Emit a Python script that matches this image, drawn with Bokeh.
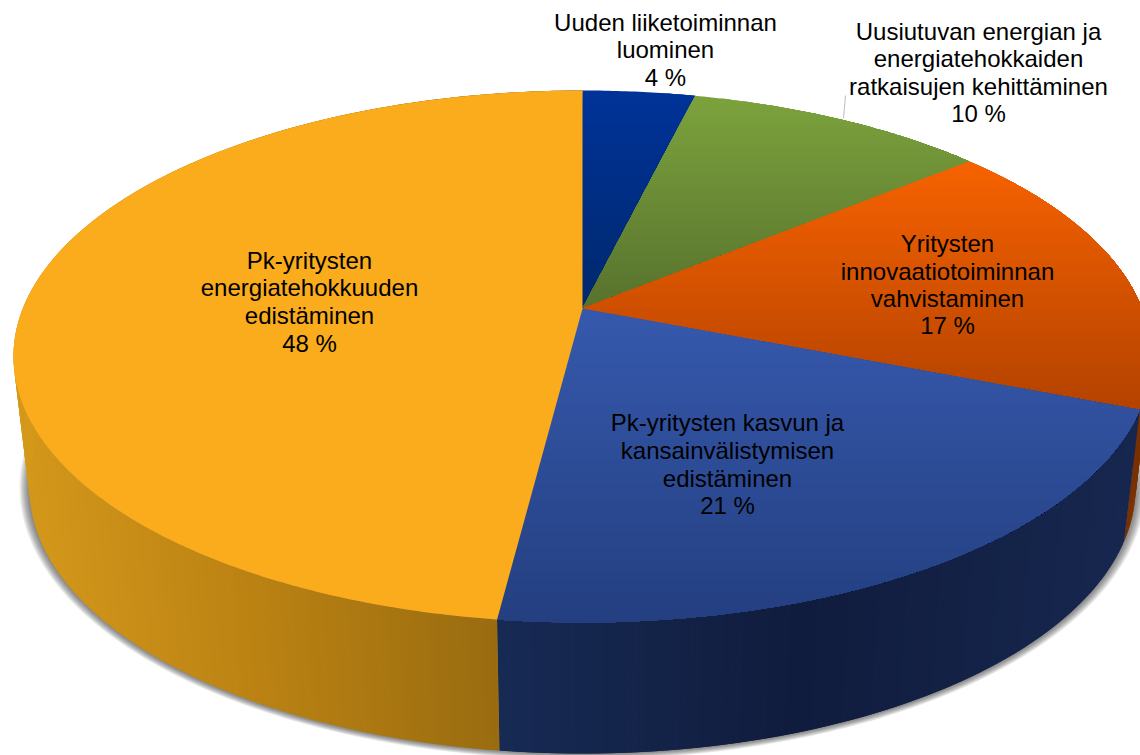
import numpy as np
from bokeh.plotting import figure
from bokeh.models import Range1d
from bokeh.core.properties import value
from bokeh.embed import file_html
from bokeh.resources import INLINE

# ---- data, clockwise from 12 o'clock (labels show rounded shares)
categories = ["Uuden liiketoiminnan luominen",
              "Uusiutuvan energian ja energiatehokkaiden ratkaisujen kehittäminen",
              "Yritysten innovaatiotoiminnan vahvistaminen",
              "Pk-yritysten kasvun ja kansainvälistymisen edistäminen",
              "Pk-yritysten energiatehokkuuden edistäminen"]
shares = [3.8, 10.2, 17, 21, 48]

label_lines = [["Uuden liiketoiminnan", "luominen", "4 %"],
               ["Uusiutuvan energian ja", "energiatehokkaiden", "ratkaisujen kehittäminen", "10 %"],
               ["Yritysten", "innovaatiotoiminnan", "vahvistaminen", "17 %"],
               ["Pk-yritysten kasvun ja", "kansainvälistymisen", "edistäminen", "21 %"],
               ["Pk-yritysten", "energiatehokkuuden", "edistäminen", "48 %"]]
label_x = [665, 978, 947, 727, 309]
label_y = [[22, 49, 77], [31, 58, 86, 113], [243, 271, 298, 325], [422, 450, 478, 505], [260, 287, 315, 343]]

top_colors = [("#003399", "#00286c"), ("#7ca23d", "#57722d"), ("#f66200", "#b34200"),
              ("#3659ad", "#243f80"), ("#faac1c", "#faac1c")]
wall_stops = [None, None,
              [(900, "#7a3000"), (1140, "#7a3000")],
              [(498, "#172a54"), (800, "#101c3d"), (1140, "#17274f")],
              [(13, "#d4981b"), (250, "#bb8213"), (498, "#996c10")]]

# ---- geometry of the projected disc
CX, CY_TOP, A_TOP, B_TOP = 582.0, 356.0, 569.0, 266.0
CY_BOT, A_BOT, B_BOT = 487.0, 553.0, 266.0
P = 0.18


def disc(theta, cy, a, b):
    u, v = np.sin(theta), np.cos(theta)
    d = 1 + P * v
    X = u * np.sqrt(1 - P ** 2) / d
    Y = (v + P) / d
    return CX + a * X, cy - b * Y


def hex2rgb(c):
    return np.array([int(c[i:i + 2], 16) for i in (1, 3, 5)], float)


def lerp(stops, t):
    xs = [s[0] for s in stops]
    rgb = [hex2rgb(s[1]) for s in stops]
    vals = [np.interp(t, xs, [r[k] for r in rgb]) for k in range(3)]
    return "#%02x%02x%02x" % tuple(int(round(x)) for x in vals)


def clip_below(xs, ys, y0):
    out = []
    n = len(xs)
    for i in range(n):
        x1, y1, x2, y2 = xs[i], ys[i], xs[(i + 1) % n], ys[(i + 1) % n]
        if y1 >= y0:
            out.append((x1, y1))
        if (y1 >= y0) != (y2 >= y0):
            t = (y0 - y1) / (y2 - y1)
            out.append((x1 + t * (x2 - x1), y0))
    return [o[0] for o in out], [o[1] for o in out]


p = figure(width=1140, height=755, x_range=Range1d(0, 1140), y_range=Range1d(755, 0),
           output_backend="svg", toolbar_location=None, min_border=0,
           outline_line_color=None, background_fill_color="white", border_fill_color="white")
p.axis.visible = False
p.grid.visible = False

# soft shadow under the wall: widest and faintest layer first
tt = np.linspace(0, 2 * np.pi, 361)
sx, sy = [], []
for k in range(10, 0, -1):
    u, v = np.sin(tt), np.cos(tt)
    sx.append(list(CX + (A_BOT + k) * u))
    sy.append(list(CY_BOT - (B_BOT + k * 0.6) * v))
p.patches(sx, sy, fill_color="#303030", fill_alpha=0.08, line_color=None)

# angular limits
frac = np.cumsum([0] + shares) / float(sum(shares))
angles = 2 * np.pi * frac

# walls, as narrow quads painted slice by slice
wx, wy, wc = [], [], []
for i, stops in enumerate(wall_stops):
    if stops is None:
        continue
    n = max(2, int((angles[i + 1] - angles[i]) / np.radians(0.6)))
    th = np.linspace(angles[i], angles[i + 1], n + 1)
    tx, ty = disc(th, CY_TOP, A_TOP, B_TOP)
    bx, by = disc(th, CY_BOT, A_BOT, B_BOT)
    for j in range(n):
        k = min(j + 2, n)
        wx.append([tx[j], tx[k], bx[k], bx[j]])
        wy.append([ty[j], ty[k], by[k], by[j]])
        wc.append(lerp(stops, (tx[j] + tx[j + 1]) / 2))
p.patches(wx, wy, fill_color=wc, line_color=None)

# top faces, painted as bands from top to bottom
fx, fy, fc = [], [], []
for i, (c1, c2) in enumerate(top_colors):
    th = np.linspace(angles[i], angles[i + 1], max(8, int((angles[i + 1] - angles[i]) / np.radians(0.5))))
    ax, ay = disc(th, CY_TOP, A_TOP, B_TOP)
    px = [CX] + list(ax)
    py = [CY_TOP - B_TOP * P] + list(ay)
    y0, y1 = min(py), max(py)
    nb = 1 if c1 == c2 else int((y1 - y0) / 3)
    for b in range(nb):
        yb = y0 + (y1 - y0) * b / nb
        qx, qy = clip_below(px, py, yb - 0.01)
        if len(qx) < 3:
            continue
        fx.append(qx)
        fy.append(qy)
        fc.append(lerp([(y0, c1), (y1, c2)], yb))
p.patches(fx, fy, fill_color=fc, line_color=None)

# leader line
p.line([843, 845], [118, 95], line_color="#bdbdbd", line_width=1)

# labels
tx_, ty_, tt_ = [], [], []
for x, ys, lines in zip(label_x, label_y, label_lines):
    for y, s in zip(ys, lines):
        tx_.append(x)
        ty_.append(y)
        tt_.append(s)
p.text(tx_, ty_, text=tt_, text_font=value("Liberation Sans"), text_font_size="24px",
       text_color="#000000", text_align="center", text_baseline="middle")

open("out.html", "w").write(file_html(p, INLINE))
